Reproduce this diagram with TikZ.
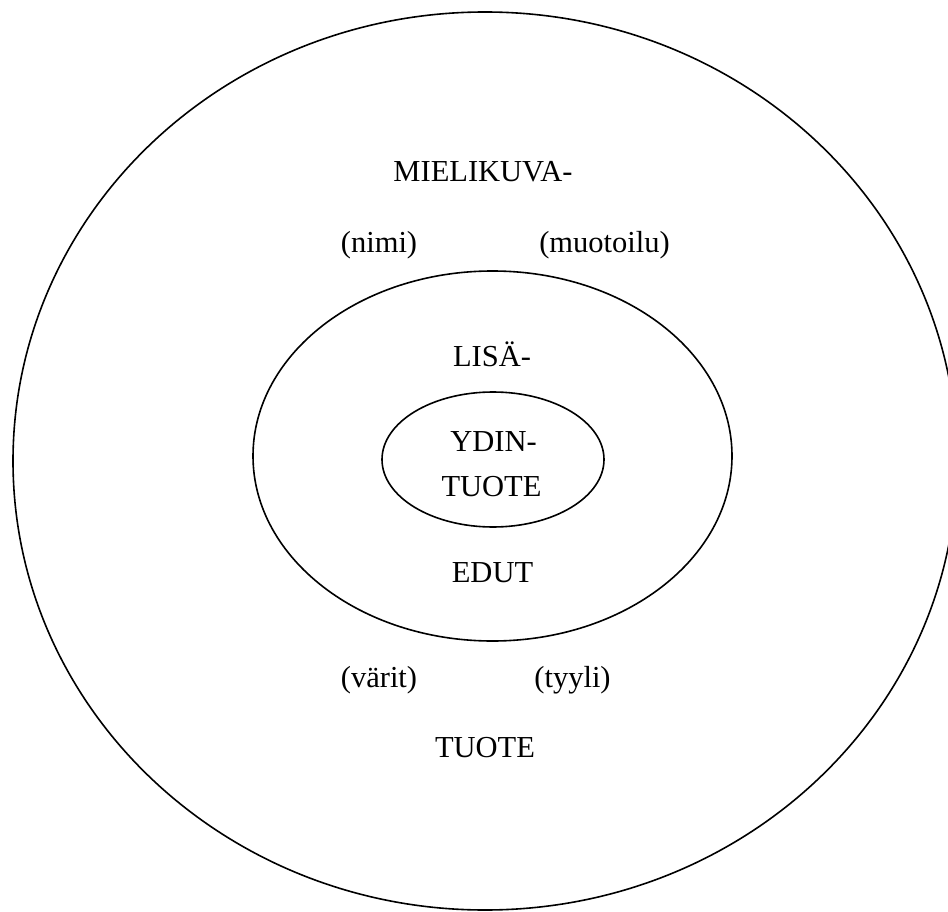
\documentclass[tikz,border=0pt]{standalone}
\usepackage{fontspec}
\setmainfont{Liberation Serif}
\begin{document}
\begin{tikzpicture}[x=1pt,y=-1pt,
  ring/.style={draw=black,line width=1.6pt},
  lbl/.style={anchor=base,inner sep=0pt,font=\fontsize{30.5}{36}\selectfont}]
\useasboundingbox (0,0) rectangle (948,912);
% nested product levels
\draw[ring] (485,461) ellipse [x radius=472, y radius=449];
\draw[ring] (492.5,456) ellipse [x radius=239.5, y radius=185];
\draw[ring] (493,459.5) ellipse [x radius=111, y radius=67.5];
% outer ring texts
\node[lbl] (mielikuva) at (483,182) {MIELIKUVA-};
\node[lbl] (nimi) at (379,252) {(nimi)};
\node[lbl] (muotoilu) at (604.5,252) {(muotoilu)};
\node[lbl] (varit) at (379,687) {(värit)};
\node[lbl] (tyyli) at (572.5,687) {(tyyli)};
\node[lbl] (tuote) at (485,757) {TUOTE};
% middle ring texts
\node[lbl] (lisa) at (492,366) {LISÄ-};
\node[lbl] (edut) at (492.5,582) {EDUT};
% core
\node[lbl] (ydin) at (493.5,451) {YDIN-};
\node[lbl] (ydintuote) at (491.5,496) {TUOTE};
\end{tikzpicture}
\end{document}
